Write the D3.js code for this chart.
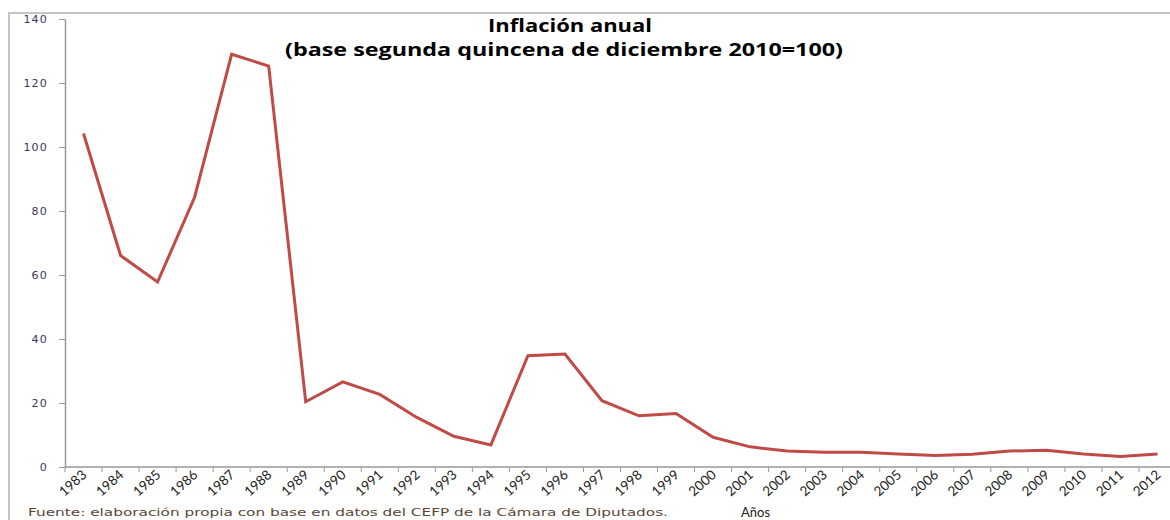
<!DOCTYPE html>
<html>
<head>
<meta charset="utf-8">
<script src="https://cdn.jsdelivr.net/npm/d3@7"></script>
<style>
    body { margin: 0; background: #fff; }
    svg { display: block; }
</style>
</head>
<body>
<svg id="chart" width="1170" height="520"></svg>
<script>
var years = ['1983', '1984', '1985', '1986', '1987', '1988', '1989', '1990', '1991', '1992',
    '1993', '1994', '1995', '1996', '1997', '1998', '1999', '2000', '2001', '2002',
    '2003', '2004', '2005', '2006', '2007', '2008', '2009', '2010', '2011', '2012'];

var inflacion = [104.2, 66.1, 57.8, 84.3, 129.0, 125.3, 20.4, 26.6, 22.7, 15.5,
    9.6, 6.9, 34.8, 35.3, 20.7, 16.0, 16.7, 9.3, 6.3, 5.0,
    4.6, 4.6, 4.1, 3.6, 4.0, 5.0, 5.2, 4.1, 3.3, 4.1];

var yTicks = [0, 20, 40, 60, 80, 100, 120, 140];

var titleLines = ['Inflación anual', '(base segunda quincena de diciembre 2010=100)'];
var fuente = 'Fuente: elaboración propia con base en datos del CEFP de la Cámara de Diputados.';
var xTitle = 'Años';

var svg = d3.select('#chart');

// outer frame (only top and left edges are visible)
svg.append('path')
    .attr('d', 'M9,520V13H1170')
    .attr('fill', 'none')
    .attr('stroke', '#c4c4c4')
    .attr('stroke-width', 2);

var x = d3.scaleBand().domain(years).range([65, 1176]);
var y = d3.scaleLinear().domain([0, 140]).range([467, 19]);

// y axis
var yAxis = svg.append('g')
    .attr('transform', 'translate(65,0)')
    .call(d3.axisLeft(y).tickValues(yTicks).tickSizeInner(6).tickSizeOuter(0).tickPadding(11));

yAxis.select('.domain').attr('stroke', '#999').attr('stroke-width', 1.5);
yAxis.selectAll('.tick line').attr('stroke', '#999');
yAxis.selectAll('.tick text')
    .attr('fill', '#3a3560')
    .style('font-family', '"DejaVu Sans", sans-serif')
    .style('font-size', '11px')
    .style('letter-spacing', '1.2px');

// x axis line and boundary ticks
svg.append('line')
    .attr('x1', 65).attr('x2', 1170)
    .attr('y1', y(0)).attr('y2', y(0))
    .attr('stroke', '#999').attr('stroke-width', 1.5);

var bounds = years.map(function(d) { return x(d); });
svg.append('g').selectAll('line')
    .data(bounds)
    .join('line')
    .attr('x1', function(d) { return d; })
    .attr('x2', function(d) { return d; })
    .attr('y1', y(0))
    .attr('y2', y(0) + 5)
    .attr('stroke', '#999');

// x tick labels, rotated
svg.append('g').selectAll('text')
    .data(years)
    .join('text')
    .attr('text-anchor', 'end')
    .attr('transform', function(d) {
        return 'translate(' + (x(d) + x.bandwidth() / 2 + 4) + ',' + (y(0) + 9) + ') rotate(-42)';
    })
    .attr('fill', '#222')
    .style('font-family', 'Lato, sans-serif')
    .style('font-size', '13.5px')
    .text(function(d) { return d; });

// series line
var line = d3.line()
    .x(function(d, i) { return x(years[i]) + x.bandwidth() / 2; })
    .y(function(d) { return y(d); });

svg.append('path')
    .datum(inflacion)
    .attr('d', line)
    .attr('fill', 'none')
    .attr('stroke', '#bf4a46')
    .attr('stroke-width', 3)
    .attr('stroke-linejoin', 'miter');

// title
svg.append('text')
    .attr('x', 570).attr('y', 32)
    .attr('text-anchor', 'middle')
    .attr('textLength', 164)
    .attr('lengthAdjust', 'spacingAndGlyphs')
    .style('font-family', '"Open Sans", sans-serif')
    .style('font-weight', 'bold')
    .style('font-size', '17px')
    .attr('fill', '#000')
    .text(titleLines[0]);

svg.append('text')
    .attr('x', 564).attr('y', 56)
    .attr('text-anchor', 'middle')
    .attr('textLength', 558)
    .attr('lengthAdjust', 'spacingAndGlyphs')
    .style('font-family', '"Open Sans", sans-serif')
    .style('font-weight', 'bold')
    .style('font-size', '18px')
    .attr('fill', '#000')
    .text(titleLines[1]);

// source note
svg.append('text')
    .attr('x', 28).attr('y', 516)
    .attr('textLength', 640)
    .attr('lengthAdjust', 'spacingAndGlyphs')
    .style('font-family', '"DejaVu Sans", sans-serif')
    .style('font-size', '11px')
    .attr('fill', '#5a4838')
    .text(fuente);

// x axis title
svg.append('text')
    .attr('x', 741).attr('y', 517)
    .style('font-family', 'Lato, sans-serif')
    .style('font-size', '13px')
    .attr('fill', '#222')
    .text(xTitle);
</script>
</body>
</html>
